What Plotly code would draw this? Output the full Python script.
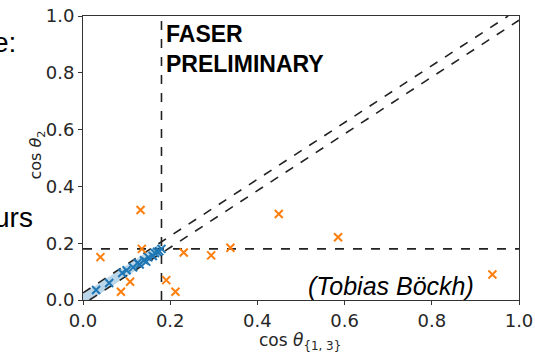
import plotly.graph_objects as go

# ---- data ----
orange_x = [0.040, 0.132, 0.135, 0.087, 0.108, 0.191, 0.212, 0.231, 0.294, 0.338, 0.449, 0.585, 0.939]
orange_y = [0.151, 0.317, 0.180, 0.029, 0.064, 0.070, 0.029, 0.167, 0.157, 0.184, 0.303, 0.221, 0.090]

blue_x = [0.03, 0.06, 0.09, 0.10, 0.115, 0.125, 0.13, 0.14, 0.145, 0.15, 0.16, 0.165, 0.17, 0.175, 0.18]
blue_y = [0.035, 0.06, 0.095, 0.105, 0.115, 0.13, 0.125, 0.14, 0.135, 0.15, 0.155, 0.165, 0.17, 0.172, 0.18]

band_x = [0.0, 0.18, 0.18, 0.0]
band_y = [0.022, 0.202, 0.163, -0.017]

diag_upper_x = [0.0, 0.975]
diag_upper_y = [0.025, 1.0]
diag_lower_x = [0.015, 1.0]
diag_lower_y = [0.0, 0.985]

cut_value = 0.18
x_ticks = [0.0, 0.2, 0.4, 0.6, 0.8, 1.0]
y_ticks = [0.0, 0.2, 0.4, 0.6, 0.8, 1.0]

fig = go.Figure()

fig.add_trace(go.Scatter(x=band_x, y=band_y, fill="toself", mode="lines",
                         line=dict(width=0), fillcolor="rgba(31,119,180,0.3)",
                         hoverinfo="skip", showlegend=False))

dash_style = dict(color="#222222", width=1.6, dash="dash")
fig.add_trace(go.Scatter(x=diag_upper_x, y=diag_upper_y, mode="lines", line=dash_style, showlegend=False))
fig.add_trace(go.Scatter(x=diag_lower_x, y=diag_lower_y, mode="lines", line=dash_style, showlegend=False))
fig.add_trace(go.Scatter(x=[cut_value, cut_value], y=[0, 1], mode="lines", line=dash_style, showlegend=False))
fig.add_trace(go.Scatter(x=[0, 1], y=[cut_value, cut_value], mode="lines", line=dash_style, showlegend=False))

fig.add_trace(go.Scatter(x=blue_x, y=blue_y, mode="markers",
                         marker=dict(symbol="x-thin", size=8, line=dict(color="#1f77b4", width=2)),
                         showlegend=False))
fig.add_trace(go.Scatter(x=orange_x, y=orange_y, mode="markers",
                         marker=dict(symbol="x-thin", size=8, line=dict(color="#ff7f0e", width=2)),
                         showlegend=False))

tickfont = dict(family="DejaVu Sans", size=18, color="#262626")
fig.update_xaxes(range=[0, 1], tickvals=x_ticks, ticktext=[f"{v:.1f}" for v in x_ticks],
                 showgrid=False, zeroline=False, showline=True, mirror=True, automargin=False,
                 linecolor="#333333", linewidth=1, ticks="outside", ticklen=4,
                 tickcolor="#333333", tickfont=tickfont)
fig.update_yaxes(range=[0, 1], tickvals=y_ticks, ticktext=[f"{v:.1f}" for v in y_ticks],
                 showgrid=False, zeroline=False, showline=True, mirror=True, automargin=False,
                 linecolor="#333333", linewidth=1, ticks="outside", ticklen=4,
                 tickcolor="#333333", tickfont=tickfont)

annos = [
    dict(text="<b>FASER<br>PRELIMINARY</b>", x=0.186, y=0.99, xref="x", yref="y",
         xanchor="left", yanchor="top", align="left", showarrow=False,
         font=dict(family="Arial", size=23, color="black")),
    dict(text="<i>(Tobias Böckh)</i>", x=0.902, y=0.05, xref="x", yref="y",
         xanchor="right", yanchor="middle", showarrow=False,
         font=dict(family="Arial", size=25, color="black")),
    dict(text="cos <i>θ</i><sub>{1, 3}</sub>", x=0.498, y=-0.145, xref="paper", yref="paper",
         xanchor="center", yanchor="middle", showarrow=False,
         font=dict(family="DejaVu Sans", size=17, color="#262626")),
    dict(text="cos <i>θ</i><sub>2</sub>", x=-0.107, y=0.51, xref="paper", yref="paper",
         xanchor="center", yanchor="middle", textangle=-90, showarrow=False,
         font=dict(family="DejaVu Sans", size=16, color="#262626")),
    dict(text="e:", x=-0.148, y=0.908, xref="paper", yref="paper",
         xanchor="right", yanchor="middle", showarrow=False,
         font=dict(family="Arial", size=28, color="black")),
    dict(text="urs", x=-0.109, y=0.289, xref="paper", yref="paper",
         xanchor="right", yanchor="middle", showarrow=False,
         font=dict(family="Arial", size=28, color="black")),
]

fig.update_layout(width=535, height=353, margin=dict(l=83, r=16, t=16, b=53),
                  paper_bgcolor="white", plot_bgcolor="white", annotations=annos)

fig.write_html("out.html")
